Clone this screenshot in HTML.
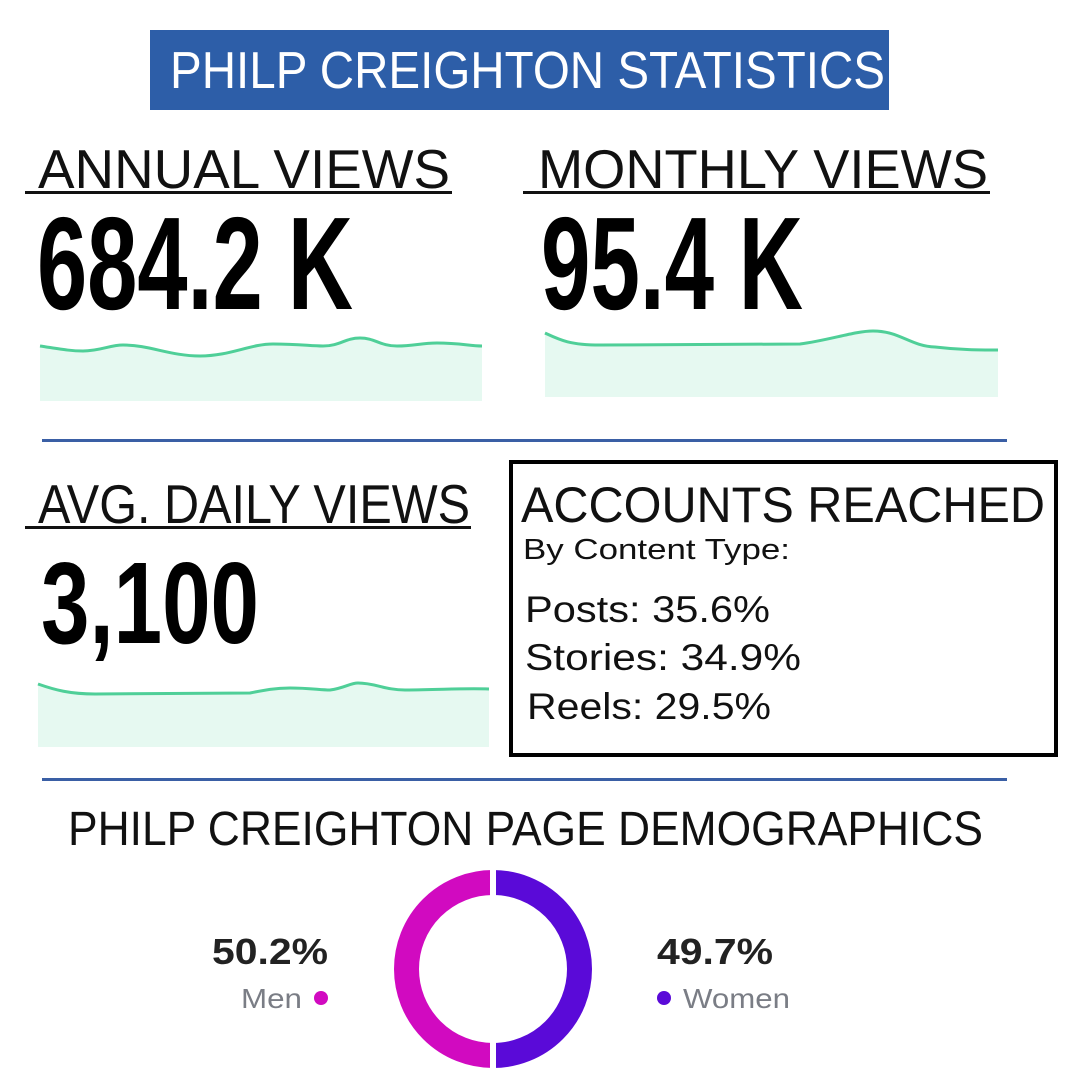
<!DOCTYPE html>
<html><head><meta charset="utf-8"><style>
html,body{margin:0;padding:0;background:#fff;}
svg{display:block;}
</style></head><body>
<svg width="1080" height="1080" viewBox="0 0 1080 1080" xmlns="http://www.w3.org/2000/svg">
<rect width="1080" height="1080" fill="#fff"/>
<rect x="150" y="30" width="739" height="80" fill="#2d5ea8"/>
<text x="170" y="88" font-family="Liberation Sans, sans-serif" font-size="52" fill="#fff" textLength="715" lengthAdjust="spacingAndGlyphs">PHILP CREIGHTON STATISTICS</text>

<g font-family="Liberation Sans, sans-serif" fill="#111">
<text x="38" y="188" font-size="55" textLength="412" lengthAdjust="spacingAndGlyphs">ANNUAL VIEWS</text>
<rect x="25" y="191" width="427" height="3" fill="#111"/>
<text x="538" y="188" font-size="55" textLength="450" lengthAdjust="spacingAndGlyphs">MONTHLY VIEWS</text>
<rect x="523" y="191" width="467" height="3" fill="#111"/>
<text x="38" y="523" font-size="55" textLength="432" lengthAdjust="spacingAndGlyphs">AVG. DAILY VIEWS</text>
<rect x="25" y="526" width="446" height="3" fill="#111"/>
</g>

<g font-family="Liberation Sans, sans-serif" font-weight="bold" fill="#000">
<text x="37" y="309" font-size="132" textLength="316" lengthAdjust="spacingAndGlyphs">684.2 K</text>
<text x="541" y="309" font-size="132" textLength="262" lengthAdjust="spacingAndGlyphs">95.4 K</text>
<text x="41" y="643" font-size="116" textLength="218" lengthAdjust="spacingAndGlyphs">3,100</text>
</g>

<path d="M40,346 C60,349 70,351 83,351 C100,351 110,345 123,345 C150,345 170,356 200,356 C230,356 250,344 273,344 C300,344 310,346 323,346 C340,346 345,338 360,338 C375,338 380,346 397,346 C415,346 420,343 437,343 C460,343 470,346 482,346 L482,401 L40,401 Z" fill="#e6f9f1"/>
<path d="M40,346 C60,349 70,351 83,351 C100,351 110,345 123,345 C150,345 170,356 200,356 C230,356 250,344 273,344 C300,344 310,346 323,346 C340,346 345,338 360,338 C375,338 380,346 397,346 C415,346 420,343 437,343 C460,343 470,346 482,346" fill="none" stroke="#4fcf98" stroke-width="3"/>

<path d="M545,333 C560,340 570,345 600,345 L800,344 C830,340 855,331 873,331 C900,331 910,346 935,347 C960,350 980,350 998,350 L998,397 L545,397 Z" fill="#e6f9f1"/>
<path d="M545,333 C560,340 570,345 600,345 L800,344 C830,340 855,331 873,331 C900,331 910,346 935,347 C960,350 980,350 998,350" fill="none" stroke="#4fcf98" stroke-width="3"/>

<path d="M38,684 C55,690 70,694 95,694 L250,693 C265,690 275,688 290,688 C310,688 320,690 330,690 C345,688 350,683 358,683 C375,683 385,690 405,690 C440,690 460,688 489,689 L489,747 L38,747 Z" fill="#e6f9f1"/>
<path d="M38,684 C55,690 70,694 95,694 L250,693 C265,690 275,688 290,688 C310,688 320,690 330,690 C345,688 350,683 358,683 C375,683 385,690 405,690 C440,690 460,688 489,689" fill="none" stroke="#4fcf98" stroke-width="3"/>

<rect x="42" y="439" width="965" height="3" fill="#3a5fa5"/>
<rect x="42" y="778" width="965" height="3" fill="#3a5fa5"/>

<rect x="511" y="462" width="545" height="293" fill="none" stroke="#000" stroke-width="4"/>
<g font-family="Liberation Sans, sans-serif" fill="#111">
<text x="521" y="522" font-size="50" textLength="524" lengthAdjust="spacingAndGlyphs">ACCOUNTS REACHED</text>
<text x="523" y="559" font-size="29" textLength="267" lengthAdjust="spacingAndGlyphs">By Content Type:</text>
<text x="525" y="622" font-size="37" textLength="245" lengthAdjust="spacingAndGlyphs">Posts: 35.6%</text>
<text x="525" y="670" font-size="37" textLength="276" lengthAdjust="spacingAndGlyphs">Stories: 34.9%</text>
<text x="527" y="719" font-size="37" textLength="244" lengthAdjust="spacingAndGlyphs">Reels: 29.5%</text>
<text x="68" y="845" font-size="48" textLength="915" lengthAdjust="spacingAndGlyphs">PHILP CREIGHTON PAGE DEMOGRAPHICS</text>
</g>

<path d="M493,882.5 A86.5,86.5 0 0 0 493,1055.5" fill="none" stroke="#d10ac0" stroke-width="25"/>
<path d="M493,882.5 A86.5,86.5 0 0 1 493,1055.5" fill="none" stroke="#5a0ad8" stroke-width="25"/>
<rect x="490" y="860" width="6" height="220" fill="#fff"/>

<g font-family="Liberation Sans, sans-serif">
<text x="212" y="964" font-size="36" font-weight="bold" fill="#222" textLength="116" lengthAdjust="spacingAndGlyphs">50.2%</text>
<text x="241" y="1008" font-size="28" fill="#7a7d85" textLength="61" lengthAdjust="spacingAndGlyphs">Men</text>
<circle cx="321" cy="998" r="7" fill="#d10ac0"/>
<text x="657" y="964" font-size="36" font-weight="bold" fill="#222" textLength="116" lengthAdjust="spacingAndGlyphs">49.7%</text>
<circle cx="664" cy="998" r="7" fill="#5a0ad8"/>
<text x="683" y="1008" font-size="28" fill="#7a7d85" textLength="107" lengthAdjust="spacingAndGlyphs">Women</text>
</g>
</svg>
</body></html>
